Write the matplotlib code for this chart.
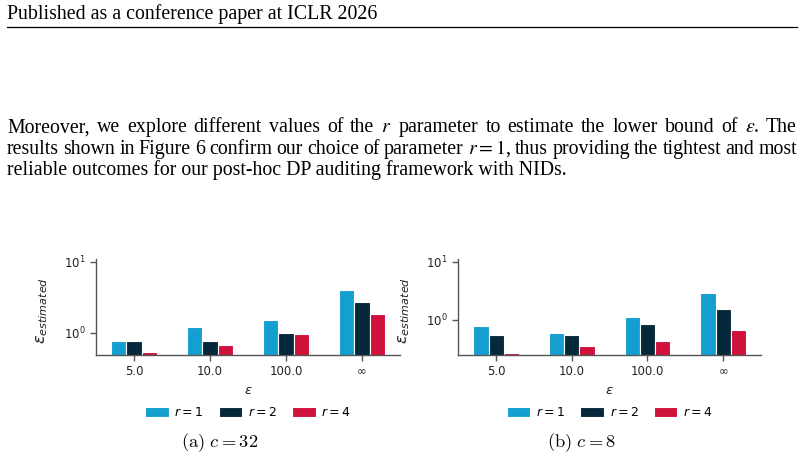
import matplotlib
matplotlib.use("Agg")
import matplotlib.pyplot as plt
from matplotlib.patches import Patch
import numpy as np

# ---------------- data ----------------
categories = ["5.0", "10.0", "100.0", "\u221e"]
series_names = [r"$r = 1$", r"$r = 2$", r"$r = 4$"]
# panel (a) c = 32
c32_r1 = [0.76, 1.22, 1.52, 3.97]
c32_r2 = [0.78, 0.78, 1.00, 2.69]
c32_r4 = [0.54, 0.68, 0.96, 1.86]
# panel (b) c = 8
c8_r1 = [0.79, 0.58, 1.10, 2.85]
c8_r2 = [0.545, 0.545, 0.85, 1.51]
c8_r4 = [0.267, 0.352, 0.434, 0.673]
captions = [r"$\mathrm{(a)}\ c = 32$", r"$\mathrm{(b)}\ c = 8$"]

colors = ["#139fcf", "#05293a", "#cf113c"]
W, H = 804, 475

fig = plt.figure(figsize=(W / 100, H / 100), dpi=100)
renderer = fig.canvas.get_renderer()


def fx(px):
    return px / W


def fy(py):
    return 1 - py / H


serif = "Liberation Serif"


def mk(s, x, y, size):
    return fig.text(fx(x), fy(y), s, fontsize=size, family=serif, va="baseline",
                    ha="left", math_fontfamily="stix")


def width_of(t):
    return t.get_window_extent(renderer).width


# ---------- header ----------
hdr = mk("Published as a conference paper at ICLR 2026", 7, 19.3, 10)
hdr.set_fontsize(10 * 369 / width_of(hdr))
fig.add_artist(plt.Line2D([fx(7), fx(797)], [fy(26.8), fy(26.8)],
                          color="black", lw=0.9, transform=fig.transFigure))

# ---------- paragraph ----------
line1 = ["Moreover,", "we", "explore", "different", "values", "of", "the", "$r$",
         "parameter", "to", "estimate", "the", "lower", "bound", "of",
         r"$\varepsilon$.", "The"]
line2 = ["results", "shown", "in", "Figure", "6", "confirm", "our", "choice", "of",
         "parameter", "$r = 1$,", "thus", "providing", "the", "tightest", "and",
         "most"]
line3 = "reliable outcomes for our post-hoc DP auditing framework with NIDs."

t3 = mk(line3, 7, 175, 10)
fs = 10 * 560 / width_of(t3)
t3.set_fontsize(fs)


def justify(words, y, x0=7, x1=797):
    texts = [mk(w, 0, y, fs) for w in words]
    widths = [width_of(t) for t in texts]
    gap = (x1 - x0 - sum(widths)) / (len(words) - 1)
    x = x0
    for t, w in zip(texts, widths):
        t.set_x(fx(x))
        x += w + gap

justify(line1, 132.3)
justify(line2, 153.7)

# ---------- charts ----------
panels = [
    dict(vals=[c32_r1, c32_r2, c32_r4], rect=[96, 304], ylim=(0.49, 10.86),
         cap_x=220),
    dict(vals=[c8_r1, c8_r2, c8_r4], rect=[458.3, 302.7], ylim=(0.246, 11.1),
         cap_x=582),
]

x = np.arange(len(categories))
bw = 0.2
spine_col = "#555555"
for i, p in enumerate(panels):
    left, width = p["rect"]
    ax = fig.add_axes([fx(left), fy(355), width / W, 96 / H])
    ax.set_yscale("log")
    for k, (vals, col) in enumerate(zip(p["vals"], colors)):
        ax.bar(x + (k - 1) * bw, vals, bw, bottom=1e-3, color=col,
               edgecolor="white", linewidth=0.8, label=series_names[k])
    ax.set_xlim(-0.5, 3.5)
    ax.set_ylim(*p["ylim"])
    ax.set_yticks([1, 10])
    ax.set_yticklabels([r"$10^{0}$", r"$10^{1}$"])
    ax.yaxis.set_minor_locator(matplotlib.ticker.NullLocator())
    ax.set_xticks(x)
    ax.set_xticklabels(categories)
    ax.tick_params(axis="both", labelsize=8.5, colors=spine_col, labelcolor="#222222",
                   length=4, width=1)
    for s in ["top", "right"]:
        ax.spines[s].set_visible(False)
    for s in ["left", "bottom"]:
        ax.spines[s].set_color(spine_col)
        ax.spines[s].set_linewidth(1)
    ax.set_ylabel(r"$\varepsilon_{estimated}$", fontsize=11.5, color="#222222")
    ax.yaxis.set_label_coords(-0.152, 0.46)
    cx = left + width / 2
    fig.text(fx(cx), fy(391), r"$\varepsilon$", fontsize=9.5, ha="center",
             va="center", color="#222222")
    handles = [Patch(facecolor=c, edgecolor="white", linewidth=0.8) for c in colors]
    ax.legend(handles, series_names, loc="center",
              bbox_to_anchor=(0.5, (355 - 413) / 96), ncol=3, frameon=False,
              fontsize=9, handlelength=1.9, handleheight=0.8, handletextpad=0.45,
              columnspacing=1.2, borderpad=0)
    fig.text(fx(p["cap_x"]), fy(443), captions[i], fontsize=13.3, ha="center",
             va="center", math_fontfamily="cm")

fig.savefig("out.png", dpi=100)
